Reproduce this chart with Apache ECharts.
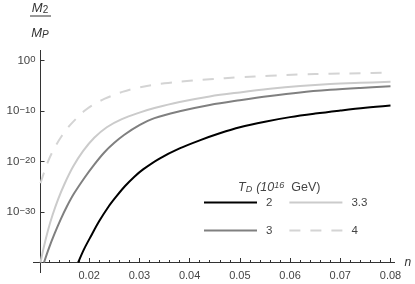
<!DOCTYPE html>
<html><head><meta charset="utf-8">
<script src="https://cdn.jsdelivr.net/npm/echarts@6/dist/echarts.min.js"></script>
<style>html,body{margin:0;padding:0;background:#fff}#c{width:415px;height:284px}</style>
</head><body><div id="c"></div>
<script>
// Series names (T_D in 10^16 GeV)
const seriesNames = ['2', '3', '3.3', '4'];
// n values and log10(M2/MP) exponents
const n2  = [0.0178,0.0190,0.0205,0.0220,0.0238,0.0255,0.0271,0.0290,0.0308,0.0340,0.0380,0.0420,0.0460,0.0500,0.0550,0.0600,0.0650,0.0700,0.0750,0.0800];
const e2  = [-40,-37.3,-34.5,-31.8,-29.0,-26.8,-24.9,-23.0,-21.5,-19.4,-17.4,-15.8,-14.4,-13.2,-12.1,-11.2,-10.5,-9.9,-9.35,-8.9];
const n3  = [0.0110,0.0120,0.0131,0.0143,0.0155,0.0170,0.0190,0.0210,0.0230,0.0250,0.0270,0.0300,0.0330,0.0380,0.0440,0.0500,0.0560,0.0620,0.0680,0.0740,0.0800];
const e3  = [-40,-37.1,-34.3,-31.5,-29.0,-26.3,-23.3,-20.6,-18.2,-16.3,-14.7,-12.8,-11.4,-10.05,-8.8,-7.85,-7.0,-6.3,-5.8,-5.42,-5.1];
const n33 = [0.0103,0.0110,0.0118,0.0127,0.0138,0.0151,0.0168,0.0188,0.0210,0.0235,0.0265,0.0300,0.0330,0.0380,0.0440,0.0500,0.0560,0.0620,0.0680,0.0740,0.0800];
const e33 = [-40,-36.8,-33.6,-30.6,-27.5,-24.4,-21.0,-17.9,-15.3,-13.2,-11.6,-10.3,-9.4,-8.2,-7.1,-6.3,-5.6,-5.05,-4.65,-4.4,-4.2];
const n4  = [0.0103,0.0112,0.0121,0.0132,0.0145,0.0160,0.0175,0.0190,0.0205,0.0230,0.0266,0.0300,0.0350,0.0400,0.0440,0.0500,0.0560,0.0620,0.0680,0.0740,0.0800];
const e4  = [-24.3,-21.6,-19.3,-17.1,-15.0,-13.0,-11.4,-10.0,-8.9,-7.6,-6.2,-5.3,-4.5,-4.0,-3.7,-3.3,-3.0,-2.75,-2.6,-2.5,-2.4];
// Tick labels
const xTicks = [0.02,0.03,0.04,0.05,0.06,0.07,0.08];
const xMinorTicks = [0.012,0.014,0.016,0.018,0.022,0.024,0.026,0.028,0.032,0.034,0.036,0.038,0.042,0.044,0.046,0.048,0.052,0.054,0.056,0.058,0.062,0.064,0.066,0.068,0.072,0.074,0.076,0.078];
const yTicks = [1, 1e-10, 1e-20, 1e-30];

const pts = (ns, es) => ns.map((n, i) => [n, Math.pow(10, es[i])]);
const FONT = '"Liberation Sans", Arial, sans-serif';
const AX = '#333';

const chart = echarts.init(document.getElementById('c'), null, {renderer: 'canvas'});
const mk = (name, ns, es, color, type) => ({
  name, type: 'line', data: pts(ns, es), showSymbol: false, symbol: 'none',
  smooth: 0.35, clip: true,
  lineStyle: {color, width: 2, type: type || 'solid'}, itemStyle: {color},
  emphasis: {disabled: true}, silent: true
});

chart.setOption({
  animation: false,
  grid: {left: 40.5, top: 50.5, right: 24.5, bottom: 21.5, containLabel: false},
  xAxis: [{
    type: 'value', min: 0.0103, max: 0.08, position: 'bottom',
    name: 'n', nameLocation: 'end', nameGap: 14,
    nameTextStyle: {fontFamily: FONT, fontSize: 12, fontStyle: 'italic', color: '#333', verticalAlign: 'middle'},
    axisLine: {show: false}, splitLine: {show: false},
    axisTick: {inside: true, length: 4.5, customValues: xTicks, lineStyle: {color: AX}},
    axisLabel: {customValues: xTicks, margin: 8, fontFamily: FONT, fontSize: 11, color: '#444',
      formatter: v => v.toFixed(2)}
  }, {
    type: 'value', min: 0.0103, max: 0.08, position: 'bottom', offset: 0,
    axisLine: {show: false}, splitLine: {show: false},
    axisTick: {inside: true, length: 2.5, customValues: xMinorTicks, lineStyle: {color: AX}},
    axisLabel: {show: false}
  }],
  yAxis: {
    type: 'log', logBase: 10, min: 1e-40, max: 1e2,
    axisLine: {show: false}, splitLine: {show: false}, minorTick: {show: false},
    axisTick: {inside: true, length: 4, customValues: yTicks, lineStyle: {color: AX}},
    axisLabel: {customValues: yTicks, margin: 5, color: '#444', fontFamily: FONT,
      formatter: v => { const e = Math.round(Math.log10(v)); return '{b|10}{s|' + (e < 0 ? '\u2212' + (-e) : e) + '}'; },
      rich: {
        b: {fontFamily: FONT, fontSize: 11.5, color: '#444', lineHeight: 12, padding: [4, 0, 0, 0], verticalAlign: 'bottom'},
        s: {fontFamily: FONT, fontSize: 9.5, color: '#444', lineHeight: 10, verticalAlign: 'top'}
      }}
  },
  legend: {
    data: ['2', '3.3', '3', '4'], left: 203, top: 196.5, width: 175, padding: 0,
    orient: 'horizontal', itemWidth: 53, itemHeight: 12, itemGap: 16,
    itemStyle: {color: 'rgba(0,0,0,0)', borderWidth: 0, opacity: 0},
    textStyle: {fontFamily: FONT, fontSize: 11.5, color: '#444', lineHeight: 12, padding: [0, 0, 0, 4]},
    selectedMode: false
  },
  series: [
    mk('4', n4, e4, '#d4d4d4', [11, 10]),
    mk('3.3', n33, e33, '#cbcbcb'),
    mk('3', n3, e3, '#808080'),
    mk('2', n2, e2, '#000000')
  ],
  graphic: [
    {type: 'line', shape: {x1: 33, y1: 262.5, x2: 395, y2: 262.5}, style: {stroke: AX, lineWidth: 1}, silent: true},
    {type: 'line', shape: {x1: 40.5, y1: 50, x2: 40.5, y2: 273}, style: {stroke: AX, lineWidth: 1}, silent: true},
    {type: 'text', x: 40, y: 15, style: {text: '{i|M}{s|2}', align: 'center', verticalAlign: 'bottom',
      rich: {i: {fontFamily: FONT, fontSize: 13, fontStyle: 'italic', fill: '#333', lineHeight: 13, padding: [0, 0, 3, 0], verticalAlign: 'top'},
             s: {fontFamily: FONT, fontSize: 10, fill: '#333', lineHeight: 10, verticalAlign: 'bottom'}}}},
    {type: 'line', shape: {x1: 30, y1: 16, x2: 51, y2: 16}, style: {stroke: '#333', lineWidth: 1}, silent: true},
    {type: 'text', x: 40, y: 40, style: {text: '{i|M}{s|P}', align: 'center', verticalAlign: 'bottom',
      rich: {i: {fontFamily: FONT, fontSize: 13, fontStyle: 'italic', fill: '#333', lineHeight: 13, padding: [0, 0, 3, 0], verticalAlign: 'top'},
             s: {fontFamily: FONT, fontSize: 10, fontStyle: 'italic', fill: '#333', lineHeight: 10, verticalAlign: 'bottom'}}}},
    {type: 'text', x: 238, y: 194, style: {text: '{t|T}{d|D}{p|(10}{u|16}{g|GeV)}', align: 'left', verticalAlign: 'bottom',
      rich: {t: {fontFamily: FONT, fontSize: 12.5, fontStyle: 'italic', fill: '#444', lineHeight: 13, padding: [3, 0, 3, 0]},
             d: {fontFamily: FONT, fontSize: 9, fontStyle: 'italic', fill: '#444', lineHeight: 9, verticalAlign: 'bottom'},
             p: {fontFamily: FONT, fontSize: 12.5, fontStyle: 'italic', fill: '#444', lineHeight: 13, padding: [3, 0, 3, 4]},
             u: {fontFamily: FONT, fontSize: 9, fill: '#444', fontStyle: 'italic', lineHeight: 9, verticalAlign: 'top'},
             g: {fontFamily: FONT, fontSize: 12.5, fill: '#444', lineHeight: 13, padding: [3, 0, 3, 7]}}}}
  ]
});
</script>
</body></html>
